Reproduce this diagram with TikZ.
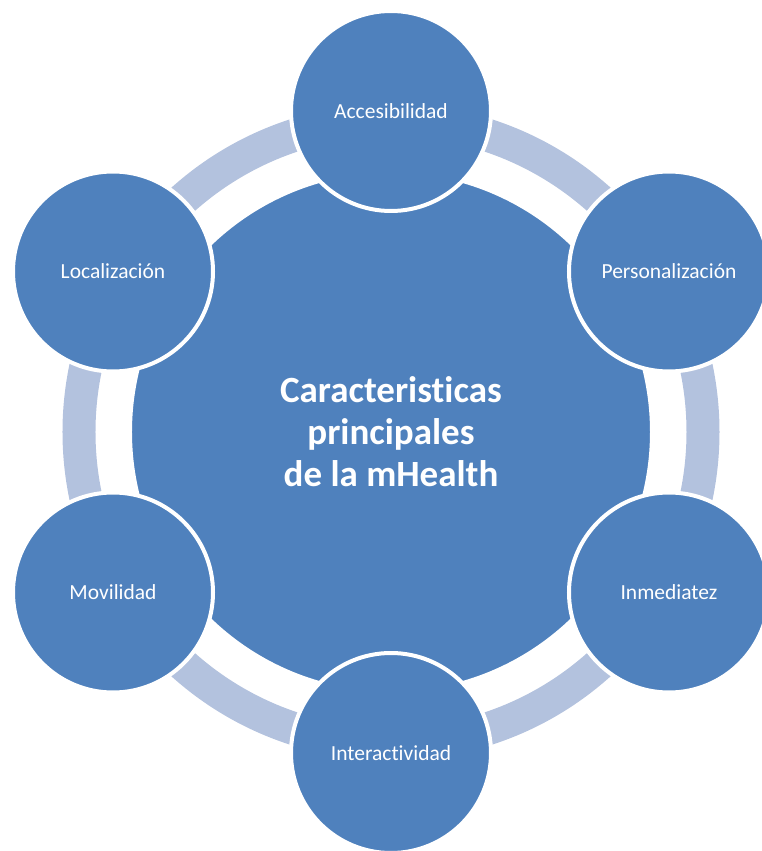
\documentclass[tikz,border=0pt]{standalone}
\usepackage{fontspec}
\setmainfont{Carlito}[Ligatures=NoCommon]
\definecolor{mblue}{RGB}{79,129,189}
\definecolor{ringc}{RGB}{179,194,222}
\begin{document}
\begin{tikzpicture}[x=1pt,y=1pt,
  hub/.style={circle, fill=mblue, draw=white, line width=4pt, minimum size=522pt, inner sep=0pt, text=white, font=\fontsize{37}{42}\selectfont\bfseries, align=center},
  sat/.style={circle, fill=mblue, draw=white, line width=4pt, minimum size=200pt, inner sep=0pt, text=white, font=\fontsize{21.5}{25}\selectfont},
  ringline/.style={draw=ringc, line width=33pt}]
\useasboundingbox (-391pt,-419pt) rectangle (371pt,432pt);
\clip (-391pt,-419pt) rectangle (371pt,432pt);
\coordinate (c) at (0pt,0pt);
\draw[ringline] (c) circle (312pt);
\node[hub] (hub) at (c) {Caracteristicas\\principales\\de la mHealth};
\node[sat] (s1) at (90:321pt) {Accesibilidad};
\node[sat] (s2) at (30:321pt) {Personalización};
\node[sat] (s3) at (-30:321pt) {Inmediatez};
\node[sat] (s4) at (-90:321pt) {Interactividad};
\node[sat] (s5) at (-150:321pt) {Movilidad};
\node[sat] (s6) at (150:321pt) {Localización};
\end{tikzpicture}
\end{document}
